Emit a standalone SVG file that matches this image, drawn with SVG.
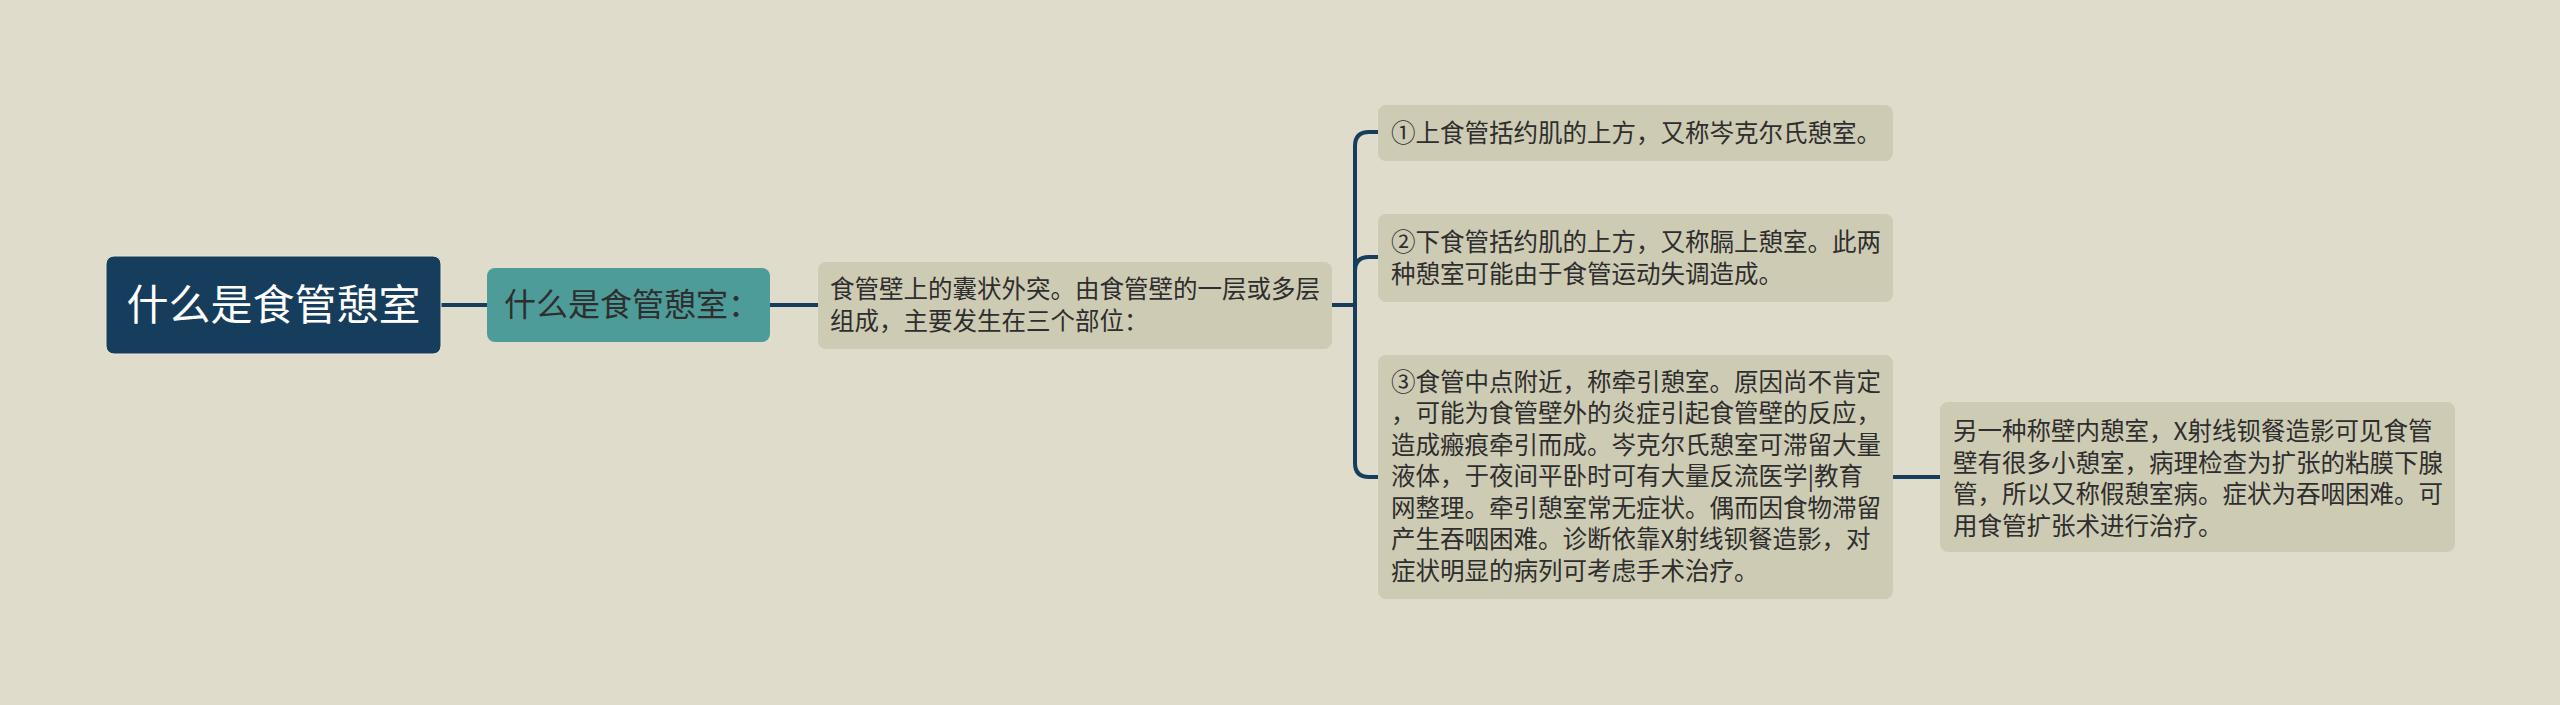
<svg xmlns="http://www.w3.org/2000/svg" width="2560" height="705" viewBox="0 0 2560 705">
<style>
.bg{fill:#dfdccb}
.conn{fill:none;stroke:#173d5c;stroke-width:4;stroke-linecap:round}
.t{font-family:"Noto Sans CJK SC","Noto Sans",sans-serif;fill:#2e2e2e}
.leaf{fill:#cecbb4}
.s{font-size:24.5px}
</style>
<rect class="bg" x="0" y="0" width="2560" height="705"/>
<g id="connectors">
<path class="conn" d="M441,305 H487"/>
<path class="conn" d="M770,305 H818"/>
<path class="conn" d="M1332,305 H1355"/>
<path class="conn" d="M1355,305 V146 Q1355,132 1369,132 H1378"/>
<path class="conn" d="M1355,305 V271 Q1355,257 1369,257 H1378"/>
<path class="conn" d="M1355,305 V463 Q1355,477 1369,477 H1378"/>
<path class="conn" d="M1893,477 H1940"/>
</g>
<g id="root">
<rect x="106" y="256" width="335" height="98" rx="8" fill="#173d5c" stroke="#e8e6da" stroke-width="1"/>
<text class="t" x="273.5" y="320" font-size="42" text-anchor="middle" style="fill:#ffffff">什么是食管憩室</text>
</g>
<g id="n1">
<rect x="487" y="268" width="283" height="74" rx="8" fill="#4e9c9a"/>
<text class="t" x="504" y="316" font-size="32">什么是食管憩室：</text>
</g>
<g id="n2">
<rect class="leaf" x="818" y="262" width="514" height="87" rx="8"/>
<text class="t s" x="830" y="298">食管壁上的囊状外突。由食管壁的一层或多层</text>
<text class="t s" x="830" y="330">组成，主要发生在三个部位：</text>
</g>
<g id="c1">
<rect class="leaf" x="1378" y="105" width="515" height="56" rx="8"/>
<text class="t s" x="1391" y="141.5">①上食管括约肌的上方，又称岑克尔氏憩室。</text>
</g>
<g id="c2">
<rect class="leaf" x="1378" y="214" width="515" height="88" rx="8"/>
<text class="t s" x="1391" y="250.5">②下食管括约肌的上方，又称膈上憩室。此两</text>
<text class="t s" x="1391" y="282.5">种憩室可能由于食管运动失调造成。</text>
</g>
<g id="c3">
<rect class="leaf" x="1378" y="355" width="515" height="244" rx="8"/>
<text class="t s" x="1391" y="390.5">③食管中点附近，称牵引憩室。原因尚不肯定</text>
<text class="t s" x="1391" y="422">，可能为食管壁外的炎症引起食管壁的反应，</text>
<text class="t s" x="1391" y="453.5">造成瘢痕牵引而成。岑克尔氏憩室可滞留大量</text>
<text class="t s" x="1391" y="485">液体，于夜间平卧时可有大量反流医学|教育</text>
<text class="t s" x="1391" y="516.5">网整理。牵引憩室常无症状。偶而因食物滞留</text>
<text class="t s" x="1391" y="548">产生吞咽困难。诊断依靠X射线钡餐造影，对</text>
<text class="t s" x="1391" y="579.5">症状明显的病列可考虑手术治疗。</text>
</g>
<g id="c3a">
<rect class="leaf" x="1940" y="402" width="515" height="150" rx="8"/>
<text class="t s" x="1953" y="440">另一种称壁内憩室，X射线钡餐造影可见食管</text>
<text class="t s" x="1953" y="471.5">壁有很多小憩室，病理检查为扩张的粘膜下腺</text>
<text class="t s" x="1953" y="503">管，所以又称假憩室病。症状为吞咽困难。可</text>
<text class="t s" x="1953" y="534.5">用食管扩张术进行治疗。</text>
</g>
</svg>
